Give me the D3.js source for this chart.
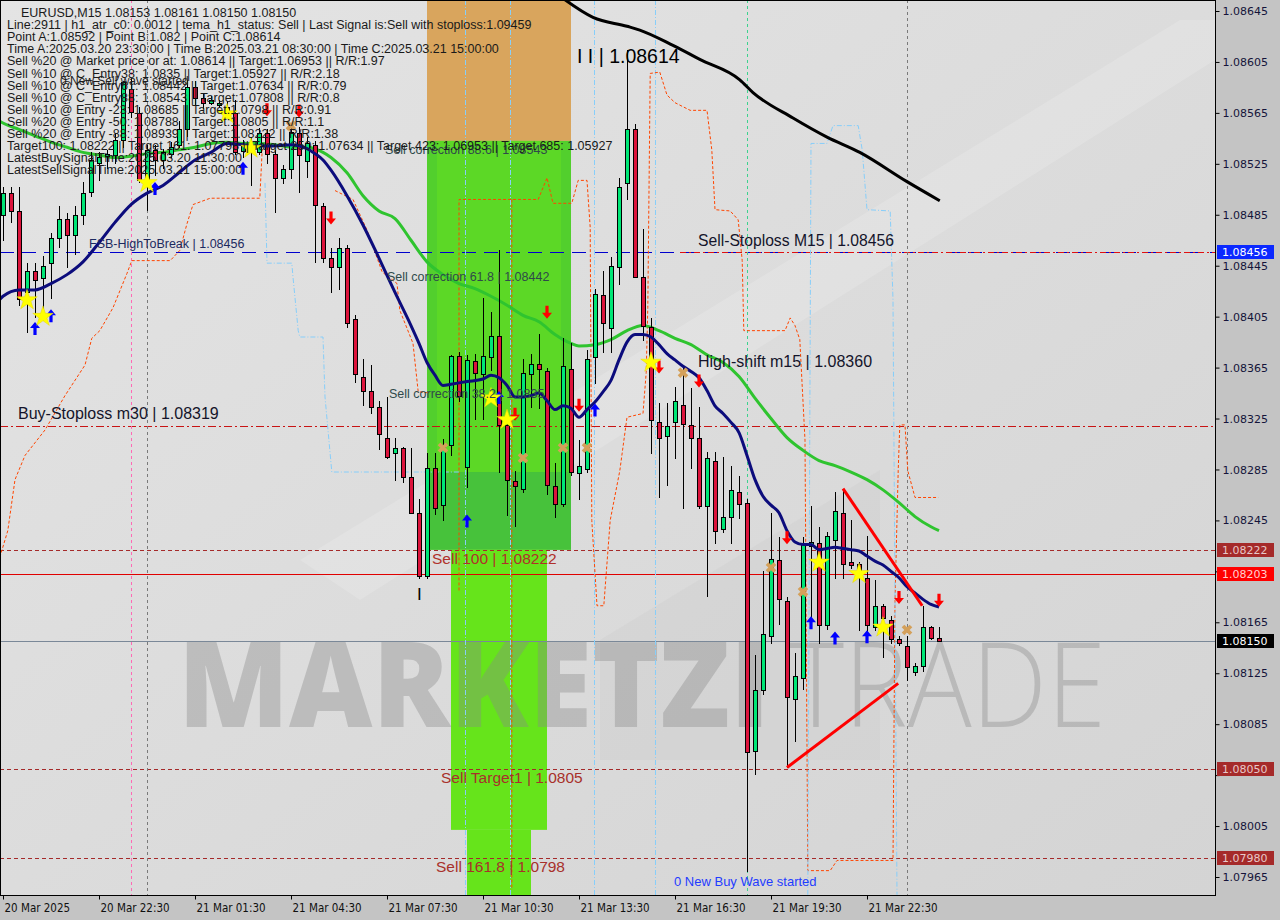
<!DOCTYPE html>
<html><head><meta charset="utf-8">
<script src="https://cdn.jsdelivr.net/npm/d3@7"></script>
<style>html,body{margin:0;padding:0;background:#c4c4c4;} svg{display:block;}</style>
</head><body><svg id="c" width="1280" height="920"></svg>
<script>
// ---------------- DATA ----------------
// EURUSD M15, bars from 20 Mar 19:30, [open, high, low, close]
const ohlc = [
[1.08485,1.08507,1.08465,1.08502],[1.08502,1.08507,1.08479,1.08488],[1.08488,1.08507,1.08414,1.08419],[1.08424,1.08447,1.08393,1.08441],
[1.08441,1.08447,1.08405,1.08434],[1.08435,1.08453,1.08402,1.08445],[1.08447,1.08471,1.08420,1.08467],[1.08467,1.08492,1.08460,1.08482],
[1.08482,1.08486,1.08444,1.08469],[1.08469,1.08492,1.08454,1.08485],[1.08485,1.08511,1.08478,1.08502],[1.08503,1.08534,1.08500,1.08528],
[1.08526,1.08534,1.08512,1.08530],[1.08531,1.08536,1.08522,1.08533],[1.08532,1.08549,1.08526,1.08544],[1.08544,1.08590,1.08538,1.08589],
[1.08584,1.08592,1.08562,1.08566],[1.08565,1.08570,1.08511,1.08512],[1.08512,1.08540,1.08489,1.08536],[1.08536,1.08540,1.08516,1.08528],
[1.08528,1.08537,1.08522,1.08534],[1.08533,1.08542,1.08530,1.08538],[1.08540,1.08559,1.08538,1.08552],[1.08552,1.08591,1.08547,1.08585],
[1.08585,1.08590,1.08571,1.08577],[1.08577,1.08581,1.08569,1.08573],[1.08573,1.08578,1.08572,1.08575],[1.08571,1.08575,1.08570,1.08573],
[1.08570,1.08574,1.08563,1.08565],[1.08565,1.08575,1.08533,1.08534],[1.08535,1.08544,1.08530,1.08539],[1.08537,1.08546,1.08508,1.08540],
[1.08534,1.08553,1.08533,1.08549],[1.08549,1.08552,1.08526,1.08533],[1.08533,1.08536,1.08487,1.08514],[1.08514,1.08524,1.08510,1.08521],
[1.08521,1.08554,1.08514,1.08550],[1.08549,1.08554,1.08503,1.08532],[1.08527,1.08546,1.08515,1.08541],[1.08540,1.08543,1.08448,1.08493],
[1.08492,1.08494,1.08448,1.08451],[1.08451,1.08459,1.08424,1.08444],[1.08444,1.08467,1.08427,1.08459],[1.08459,1.08461,1.08397,1.08400],
[1.08403,1.08406,1.08354,1.08360],[1.08358,1.08372,1.08336,1.08347],[1.08347,1.08367,1.08329,1.08334],[1.08334,1.08339,1.08301,1.08313],
[1.08310,1.08342,1.08294,1.08295],[1.08298,1.08310,1.08277,1.08302],[1.08302,1.08303,1.08275,1.08279],[1.08279,1.08302,1.08251,1.08251],
[1.08251,1.08262,1.08200,1.08201],[1.08201,1.08298,1.08200,1.08286],[1.08286,1.08298,1.08250,1.08255],[1.08257,1.08309,1.08245,1.08304],
[1.08304,1.08375,1.08296,1.08374],[1.08374,1.08377,1.08339,1.08343],[1.08287,1.08375,1.08271,1.08371],[1.08370,1.08376,1.08325,1.08361],
[1.08360,1.08420,1.08325,1.08374],[1.08373,1.08409,1.08363,1.08390],[1.08390,1.08457,1.08283,1.08320],[1.08320,1.08324,1.08249,1.08277],
[1.08276,1.08284,1.08241,1.08272],[1.08270,1.08372,1.08267,1.08361],[1.08360,1.08376,1.08334,1.08368],[1.08368,1.08391,1.08333,1.08364],
[1.08362,1.08365,1.08266,1.08273],[1.08272,1.08290,1.08248,1.08258],[1.08258,1.08388,1.08256,1.08366],[1.08364,1.08384,1.08281,1.08283],
[1.08282,1.08308,1.08262,1.08288],[1.08285,1.08379,1.08283,1.08372],[1.08373,1.08427,1.08353,1.08423],[1.08422,1.08441,1.08377,1.08400],
[1.08396,1.08452,1.08377,1.08445],[1.08444,1.08514,1.08431,1.08507],[1.08510,1.08614,1.08497,1.08552],[1.08552,1.08556,1.08436,1.08436],
[1.08436,1.08474,1.08387,1.08398],[1.08397,1.08404,1.08298,1.08324],[1.08322,1.08337,1.08263,1.08310],[1.08311,1.08337,1.08273,1.08319],
[1.08322,1.08350,1.08294,1.08339],[1.08336,1.08365,1.08255,1.08321],[1.08320,1.08349,1.08286,1.08310],[1.08310,1.08334,1.08255,1.08256],
[1.08256,1.08299,1.08186,1.08294],[1.08292,1.08299,1.08227,1.08237],[1.08238,1.08295,1.08236,1.08248],[1.08248,1.08288,1.08227,1.08269],
[1.08267,1.08280,1.08247,1.08258],[1.08259,1.08262,1.07970,1.08063],[1.08064,1.08139,1.08046,1.08112],[1.08112,1.08205,1.08109,1.08156],
[1.08154,1.08251,1.08149,1.08215],[1.08214,1.08232,1.08164,1.08183],[1.08182,1.08185,1.08051,1.08106],[1.08105,1.08141,1.08072,1.08123],
[1.08121,1.08232,1.08113,1.08227],[1.08225,1.08256,1.08167,1.08228],[1.08227,1.08240,1.08149,1.08163],[1.08163,1.08236,1.08160,1.08233],
[1.08230,1.08267,1.08200,1.08252],[1.08251,1.08269,1.08200,1.08211],[1.08212,1.08245,1.08208,1.08210],[1.08211,1.08212,1.08159,1.08206],
[1.08200,1.08233,1.08156,1.08163],[1.08161,1.08198,1.08159,1.08178],[1.08178,1.08179,1.08138,1.08168],[1.08167,1.08170,1.08149,1.08152],
[1.08152,1.08154,1.08147,1.08149],[1.08146,1.08154,1.08120,1.08130],[1.08126,1.08133,1.08124,1.08131],[1.08131,1.08178,1.08127,1.08161],
[1.08161,1.08162,1.08152,1.08153],[1.08153,1.08161,1.08150,1.08150]
];

// moving averages [bar, price]
const navyMA = [[-0.5,1.08418],[0,1.08421],[2,1.08426],[4,1.08426],[6,1.08431],[8,1.08438],[10,1.08448],[12,1.08463],[14,1.08479],[16,1.08493],[18,1.08502],[20,1.08508],[22,1.08518],[24,1.08528],[26,1.08534],[28,1.08541],[30,1.08540],[32,1.08539],[34,1.08539],[36,1.08540],[38,1.08537],[39,1.08533],[40,1.08528],[41,1.08520],[43,1.08500],[45,1.08477],[47,1.08451],[49,1.08424],[51,1.08398],[52,1.08384],[53,1.08369],[54,1.08359],[55,1.08351],[56,1.08352],[58,1.08354],[60,1.08356],[61,1.08359],[62,1.08357],[63,1.08351],[64,1.08342],[65,1.08342],[66,1.08343],[67,1.08345],[68,1.08339],[69,1.08332],[70,1.08335],[71,1.08333],[72,1.08326],[73,1.08332],[74,1.08338],[75,1.08346],[76,1.08355],[77,1.08371],[78,1.08385],[79,1.08391],[80,1.08391],[81,1.08389],[82,1.08383],[83,1.08376],[84,1.08371],[85,1.08366],[86,1.08362],[87,1.08357],[88,1.08347],[89,1.08335],[90,1.08329],[91,1.08322],[92,1.08314],[93,1.08296],[94,1.08277],[95,1.08264],[96,1.08257],[97,1.08251],[98,1.08237],[99,1.08228],[100,1.08226],[101,1.08226],[102,1.08222],[103,1.08223],[104,1.08224],[105,1.08223],[106,1.08222],[107,1.08221],[108,1.08217],[109,1.08213],[110,1.08210],[111,1.08205],[112,1.08200],[113,1.08193],[114,1.08188],[115,1.08183],[116,1.08179],[117,1.08177]];
const greenMA = [[-0.5,1.08559],[0,1.08557],[2,1.08552],[4,1.08547],[6,1.08542],[8,1.08538],[10,1.08534],[12,1.08532],[14,1.08530],[16,1.08531],[18,1.08533],[20,1.08534],[22,1.08536],[24,1.08538],[26,1.08541],[28,1.08542],[30,1.08541],[32,1.08541],[34,1.08540],[36,1.08538],[38,1.08538],[40,1.08534],[41,1.08530],[43,1.08518],[45,1.08500],[47,1.08488],[49,1.08482],[51,1.08465],[53,1.08448],[55,1.08438],[57,1.08431],[59,1.08427],[61,1.08421],[63,1.08414],[65,1.08406],[67,1.08401],[69,1.08391],[71,1.08384],[72,1.08382],[74,1.08383],[76,1.08387],[78,1.08394],[80,1.08398],[82,1.08394],[84,1.08388],[86,1.08383],[88,1.08375],[90,1.08369],[92,1.08358],[94,1.08341],[96,1.08325],[98,1.08310],[100,1.08300],[102,1.08292],[104,1.08288],[106,1.08283],[108,1.08277],[110,1.08269],[112,1.08259],[114,1.08248],[116,1.08240],[117,1.08237]];
const blackMA = [[70.2,1.08654],[73.75,1.08640],[78,1.08633],[79.6,1.08630],[83.75,1.08618],[87.1,1.08607],[92.1,1.08591],[93.75,1.08581],[98.75,1.08561],[103,1.08546],[107.1,1.08534],[113,1.08511],[117.1,1.08496]];

// band / channel lines [bar, price]
const orangeBandA = [[-0.4,1.08216],[0.6,1.08237],[1.5,1.08277],[2.75,1.08296],[5.25,1.08316],[7.75,1.08343],[10.25,1.08367],[11.1,1.08388],[12.1,1.08394],[13.75,1.08412],[15.5,1.08439],[16.1,1.08449],[20.9,1.08449],[22.1,1.08457],[23,1.08478],[23.75,1.08493],[25.9,1.08498],[32.1,1.08498],[32.4,1.08536]];
const orangeBandB = [[41.5,1.08504],[43.75,1.08497],[45.5,1.08473],[47.4,1.08440],[49.25,1.08431],[49.6,1.08410],[51.25,1.08384],[51.9,1.08346],[53.4,1.08345]];
const orangeBandC = [[57,1.08190],[57,1.08497],[63.1,1.08497],[66.9,1.08497],[68,1.08514],[68.75,1.08494],[71.1,1.08494],[71.9,1.08512],[73,1.08512],[73.4,1.08475],[73.6,1.08245],[74.25,1.08178],[75.1,1.08178],[75.9,1.08245],[77.1,1.08284],[78,1.08326],[80,1.08329],[80.4,1.08361],[80.6,1.08412],[80.9,1.08596],[82.1,1.08597],[83,1.08579],[84,1.08573],[85.9,1.08567],[88,1.08567],[88.6,1.08536],[89,1.08489],[90.9,1.08488],[91.9,1.08481],[92.4,1.08449],[92.6,1.08394],[97.75,1.08394],[98.4,1.08404],[99,1.08398],[99.6,1.08387],[100.25,1.08308],[100.6,1.07970],[103.4,1.07970],[104.25,1.07978],[111.25,1.07978],[111.5,1.08182],[111.9,1.08284],[112.1,1.08320],[112.75,1.08320],[113.1,1.08284],[114,1.08263],[116.9,1.08263]];
const orangeBandD = [[63.6,1.08497],[63.6,1.07955]];
const blueBandA = [[32.75,1.08510],[33,1.08447],[36.1,1.08447],[36.25,1.08436],[36.9,1.08394],[37.1,1.08389],[40,1.08389],[40.25,1.08342],[41.1,1.08283],[57.1,1.08283]];
const blueBandB = [[100.6,1.07951],[101,1.08541],[103,1.08541],[103.75,1.08555],[106.9,1.08555],[107.4,1.08536],[108,1.08489],[110.9,1.08488],[111.25,1.08418],[111.75,1.07951]];
const blueVerticals = [57.75, 63.4, 73.9, 81.5];
const pinkVertical = 16, grayVerticals = [18, 113], tealVertical = 93;

// zones
const zoneBars = [53, 71];
const zoneLevels = [1.08700, 1.08543, 1.08283, 1.08222];
const lowerZoneBars = [56, 68], lowerZoneLevels = [1.08222, 1.08002];
const tailZoneBars = [58, 66], tailZoneLevels = [1.08002, 1.07940];

// triangle
const triUpper = [[105,1.08270],[114.9,1.08178]];
const triLower = [[98,1.08051],[111.9,1.08117]];

// levels
const fsbLevel = 1.08456, buyStopLevel = 1.08319, sell100Level = 1.08222, redLevel = 1.08203, bidLevel = 1.08150, target1Level = 1.08050, sell1618Level = 1.07980;

// signals [bar, price]
const sellArrows = [[33,1.08567],[37,1.08566],[41,1.08482],[68,1.08408],[64,1.08328],[72,1.08335],[82,1.08365],[87,1.08354],[98,1.08231],[112,1.08184],[117,1.08182]];
const buyArrows = [[4,1.08396],[6,1.08406],[19,1.08506],[30,1.08522],[58,1.08245],[62,1.08342],[74,1.08332],[101,1.08165],[104,1.08153],[108,1.08154]];
const stars = [[3,1.08418],[5,1.08405],[18,1.08510],[28,1.08564],[31,1.08537],[61,1.08341],[63,1.08324],[81,1.08369],[102,1.08212],[107,1.08203],[110,1.08161]];
const crosses = [[55,1.08302],[65,1.08294],[70,1.08302],[73,1.08302],[85,1.08361],[96,1.08208],[100,1.08189],[113,1.08159],[36,1.08555]];

// axes
const priceTicks = [1.08645,1.08605,1.08565,1.08525,1.08485,1.08445,1.08405,1.08365,1.08325,1.08285,1.08245,1.08205,1.08165,1.08125,1.08085,1.08045,1.08005,1.07965];
const hiddenTicks = [1.08205, 1.08045];
const timeTicks = [0,12,24,36,48,60,72,84,96,108];
const timeLabels = ["20 Mar 2025","20 Mar 22:30","21 Mar 01:30","21 Mar 04:30","21 Mar 07:30","21 Mar 10:30","21 Mar 13:30","21 Mar 16:30","21 Mar 19:30","21 Mar 22:30"];
const axisMarkers = [1.08456, 1.08222, 1.08203, 1.08150, 1.08050, 1.07980];

const infoLines = [
"Line:2911 | h1_atr_c0: 0.0012 | tema_h1_status: Sell | Last Signal is:Sell with stoploss:1.09459",
"Point A:1.08592 | Point B:1.082 | Point C:1.08614",
"Time A:2025.03.20 23:30:00 | Time B:2025.03.21 08:30:00 | Time C:2025.03.21 15:00:00",
"Sell %20 @ Market price or at: 1.08614 || Target:1.06953 || R/R:1.97",
"Sell %10 @ C_Entry38: 1.0835 || Target:1.05927 || R/R:2.18",
"Sell %10 @ C_Entry61: 1.08442 || Target:1.07634 || R/R:0.79",
"Sell %10 @ C_Entry88: 1.08543 || Target:1.07808 || R/R:0.8",
"Sell %10 @ Entry -23: 1.08685 || Target:1.0798 || R/R:0.91",
"Sell %20 @ Entry -50: 1.08788 || Target:1.0805 || R/R:1.1",
"Sell %20 @ Entry -88: 1.08939 || Target:1.08222 || R/R:1.38",
"Target100: 1.08222 || Target 161: 1.07798 || Target 250: 1.07634 || Target 423: 1.06953 || Target 685: 1.05927",
"LatestBuySignalTime:2025.03.20 11:30:00",
"LatestSellSignalTime:2025.03.21 15:00:00"
];
const titleLine = "EURUSD,M15  1.08153 1.08161 1.08150 1.08150";

// ---------------- DRAW ----------------
const PW = 1215, PH = 895;
const svg = d3.select('#c');
const x = d3.scaleLinear().domain([0, 117]).range([3, 939]);
const y = d3.scaleLinear().domain([1.07965, 1.08645]).range([877, 11]);
const F = 'Liberation Sans, Arial, sans-serif';

const defs = svg.append('defs');
const grad = defs.append('linearGradient').attr('id','bg').attr('x1',0).attr('y1',0).attr('x2',1).attr('y2',1);
grad.append('stop').attr('offset','0%').attr('stop-color','#e4e4e4');
grad.append('stop').attr('offset','100%').attr('stop-color','#d4d4d4');
defs.append('clipPath').attr('id','clip').append('rect').attr('x',0).attr('y',0).attr('width',PW).attr('height',PH);

svg.append('rect').attr('width',1280).attr('height',920).attr('fill','#c4c4c4');
svg.append('rect').attr('width',PW).attr('height',PH).attr('fill','url(#bg)');
const g = svg.append('g').attr('clip-path','url(#clip)');

// faint logo shapes
g.append('path').attr('d','M300,560 L1180,20 L1215,20 L1215,60 L360,600 Z').attr('fill','#ffffff').attr('opacity',0.15);
g.append('path').attr('d','M600,640 L880,470 L880,760 L600,760 Z').attr('fill','#c8c8c8').attr('opacity',0.25);

// zones
const zx0 = x(zoneBars[0]), zx1 = x(zoneBars[1]);
g.append('rect').attr('x',zx0).attr('width',zx1-zx0).attr('y',y(zoneLevels[0])).attr('height',y(zoneLevels[1])-y(zoneLevels[0])).attr('fill','#d9a55d');
g.append('rect').attr('x',zx0).attr('width',zx1-zx0).attr('y',y(zoneLevels[1])).attr('height',y(zoneLevels[3])-y(zoneLevels[1])).attr('fill','#52cf2d');
g.append('rect').attr('x',zx0+10).attr('width',zx1-zx0-20).attr('y',y(zoneLevels[1])).attr('height',y(zoneLevels[2])-y(zoneLevels[1])).attr('fill','#5cd826');
g.append('rect').attr('x',zx0).attr('width',zx1-zx0).attr('y',y(zoneLevels[2])).attr('height',y(zoneLevels[3])-y(zoneLevels[2])).attr('fill','#47c23b');
g.append('rect').attr('x',x(lowerZoneBars[0])).attr('width',x(lowerZoneBars[1])-x(lowerZoneBars[0])).attr('y',y(lowerZoneLevels[0])).attr('height',y(lowerZoneLevels[1])-y(lowerZoneLevels[0])).attr('fill','#66e41b');
g.append('rect').attr('x',x(tailZoneBars[0])).attr('width',x(tailZoneBars[1])-x(tailZoneBars[0])).attr('y',y(tailZoneLevels[0])).attr('height',y(tailZoneLevels[1])-y(tailZoneLevels[0])).attr('fill','#66e41b');

// watermark (over zones)
g.append('text').attr('x',178).attr('y',727).attr('font-family','Open Sans, sans-serif').attr('font-weight',800)
  .attr('font-size',118).attr('fill','#8a8a8a').attr('fill-opacity',0.38)
  .attr('textLength',592).attr('lengthAdjust','spacingAndGlyphs').text('MARKETZI');
g.append('text').attr('x',788).attr('y',727).attr('font-family','Open Sans, sans-serif').attr('font-weight',300)
  .attr('font-size',118).attr('fill','#8a8a8a').attr('fill-opacity',0.38)
  .attr('textLength',318).attr('lengthAdjust','spacingAndGlyphs').text('TRADE');

// horizontal levels
function hline(p, stroke, dash, x0 = 0, x1 = PW, w = 1) {
  const yy = Math.round(y(p)) + 0.5;
  g.append('line').attr('x1',x0).attr('x2',x1).attr('y1',yy).attr('y2',yy)
    .attr('stroke',stroke).attr('stroke-width',w).attr('stroke-dasharray',dash);
}
hline(fsbLevel, '#0000cd', '14,8');
hline(fsbLevel, '#e01010', '6,3,2,3', 680, PW);
hline(buyStopLevel, '#c81414', '8,3,2,3');
hline(sell100Level, '#a52a2a', '4,3');
hline(redLevel, '#e00000', null);
hline(bidLevel, '#7a8898', null);
hline(target1Level, '#a52a2a', '4,3');
hline(sell1618Level, '#a52a2a', '4,3');

// verticals
function vline(i, stroke, dash) {
  const xx = Math.round(x(i)) + 0.5;
  g.append('line').attr('x1',xx).attr('x2',xx).attr('y1',0).attr('y2',PH)
    .attr('stroke',stroke).attr('stroke-width',1).attr('stroke-dasharray',dash);
}
blueVerticals.forEach(i => vline(i, '#87cefa', '5,2,1,2'));
vline(pinkVertical, '#ff69b4', '3,3');
grayVerticals.forEach(i => vline(i, '#7a7a7a', '3,3'));
vline(tealVertical, '#3cd28e', '3,3');

const line = d3.line().x(d => x(d[0])).y(d => y(d[1]));
function poly(data, stroke, w, dash, curve) {
  g.append('path').attr('d', (curve ? line.curve(curve) : line.curve(d3.curveLinear))(data))
    .attr('fill','none').attr('stroke',stroke).attr('stroke-width',w).attr('stroke-dasharray',dash || null)
    .attr('stroke-linejoin','round');
}
[orangeBandA, orangeBandB, orangeBandC, orangeBandD].forEach(d => poly(d, '#ff4500', 1, '3,2'));
[blueBandA, blueBandB].forEach(d => poly(d, '#87cefa', 1, '5,2,1,2'));

// MAs
poly(blackMA, '#000000', 3, null, d3.curveMonotoneX);
poly(greenMA, '#2fc42f', 3, null, d3.curveMonotoneX);

// candles
const cg = g.append('g');
cg.selectAll('line.w').data(ohlc).join('line').attr('class','w')
  .attr('x1',(d,i)=>Math.round(x(i))+0.5).attr('x2',(d,i)=>Math.round(x(i))+0.5)
  .attr('y1',d=>Math.round(y(d[1]))).attr('y2',d=>Math.round(y(d[2]))+1)
  .attr('stroke','#000').attr('stroke-width',1);
cg.selectAll('rect.b').data(ohlc).join('rect').attr('class','b')
  .attr('x',(d,i)=>Math.round(x(i))-1.5).attr('width',4)
  .attr('y',d=>Math.round(y(Math.max(d[0],d[3])))+0.5)
  .attr('height',d=>Math.max(1, Math.round(y(Math.min(d[0],d[3]))) - Math.round(y(Math.max(d[0],d[3])))))
  .attr('fill',d=>d[3]>=d[0] ? '#00e676' : '#dc143c').attr('stroke','#000').attr('stroke-width',1);

poly(navyMA, '#0c0c7c', 3, null, d3.curveMonotoneX);

// triangle
poly(triUpper, '#ff0000', 3);
poly(triLower, '#ff0000', 3);

// signals
const downArrow = 'M-1.6,-7 L1.6,-7 L1.6,0 L5,0 L0,6 L-5,0 L-1.6,0 Z';
const upArrow = 'M-1.6,7 L1.6,7 L1.6,0 L5,0 L0,-6 L-5,0 L-1.6,0 Z';
g.selectAll('path.sa').data(sellArrows).join('path').attr('class','sa').attr('d',downArrow)
  .attr('transform',d=>`translate(${x(d[0])},${y(d[1])})`).attr('fill','#ff0000');
g.selectAll('path.ba').data(buyArrows).join('path').attr('class','ba').attr('d',upArrow)
  .attr('transform',d=>`translate(${x(d[0])},${y(d[1])})`).attr('fill','#0000ff');
g.selectAll('path.st').data(stars).join('path').attr('class','st').attr('d',d3.symbol(d3.symbolStar).size(130)())
  .attr('transform',d=>`translate(${x(d[0])},${y(d[1])})`).attr('fill','#ffff00').attr('stroke','#e6d800').attr('stroke-width',0.5);
g.selectAll('path.cr').data(crosses).join('path').attr('class','cr').attr('d',d3.symbol(d3.symbolCross).size(70)())
  .attr('transform',d=>`translate(${x(d[0])},${y(d[1])}) rotate(45)`).attr('fill','#d4a05a');

// annotations
function label(t, xx, yy, size, fill) {
  return g.append('text').attr('x',xx).attr('y',yy).attr('font-family',F).attr('font-size',size).attr('fill',fill).text(t);
}
label('FSB-HighToBreak | 1.08456', 89, y(fsbLevel)-4, 12.5, '#1c2a60');
label('Sell-Stoploss M15 | 1.08456', 698, y(fsbLevel)-6, 15.7, '#14142a');
label('Sell correction 88.6 | 1.08543', 385, 154, 12.5, '#2f4a4a');
label('Sell correction 61.8 | 1.08442', 387, 281, 12.5, '#2f4a4a');
label('Sell correction 38.2 | 1.0835', 389, 398, 12.5, '#2f4a4a');
label('High-shift m15 | 1.08360', 698, 367, 16, '#14142a');
label('Buy-Stoploss m30 | 1.08319', 18, 419, 16, '#14142a');
label('Sell 100 | 1.08222', 432, 564, 15.5, '#b0302a');
label('Sell Target1 | 1.0805', 441, 783, 15.5, '#a8302a');
label('Sell 161.8 | 1.0798', 436, 872, 15.5, '#a8302a');
label('I I | 1.08614', 577, 63, 19.5, '#000000');
label('I', 417, 600, 17, '#000000');
label('0 New Buy Wave started', 674, 886, 13, '#1f3cff');
label('0 New Sell wave started', 60, 85, 12, '#222222');

// info text
label(titleLine, 21, 17, 12.5, '#1a1a1a');
infoLines.forEach((t, k) => label(t, 7, 29.1 + 12.1*k, 12.5, '#1a1a1a'));

// frame
svg.append('rect').attr('x',0.5).attr('y',0.5).attr('width',PW).attr('height',PH).attr('fill','none').attr('stroke','#000').attr('stroke-width',1);

// axes
const ay = svg.append('g').attr('transform',`translate(${PW+0.5},0)`)
  .call(d3.axisRight(y).tickValues(priceTicks).tickFormat(d => hiddenTicks.includes(d) ? '' : d3.format('.5f')(d)).tickSize(4).tickPadding(3));
ay.select('.domain').remove();
ay.selectAll('text').attr('font-family','DejaVu Sans, sans-serif').attr('font-size',11).attr('fill','#14143a');
ay.selectAll('line').attr('stroke','#000');

const ax = svg.append('g').attr('transform',`translate(0,${PH+0.5})`)
  .call(d3.axisBottom(x).tickValues(timeTicks).tickFormat((d,i)=>timeLabels[i]).tickSize(4).tickPadding(4));
ax.select('.domain').remove();
ax.selectAll('text').attr('text-anchor','start').attr('x',1).attr('font-family','DejaVu Sans Condensed, DejaVu Sans, sans-serif').attr('font-size',11.5).attr('fill','#101010');
ax.selectAll('line').attr('stroke','#000');

// axis markers
const markerFill = ['#0a28ff','#a52a2a','#ff0000','#000000','#a52a2a','#a52a2a'];
const markerText = ['#ffffff','#e8c8c8','#ffd0d0','#ffffff','#e8c8c8','#e8c8c8'];
const mg = svg.append('g');
mg.selectAll('rect').data(axisMarkers).join('rect')
  .attr('x',PW+2).attr('width',57).attr('y',d=>Math.round(y(d))-7).attr('height',14)
  .attr('fill',(d,i)=>markerFill[i]);
mg.selectAll('text').data(axisMarkers).join('text')
  .attr('x',PW+7).attr('y',d=>Math.round(y(d))+4).attr('font-family','DejaVu Sans, sans-serif').attr('font-size',11)
  .attr('fill',(d,i)=>markerText[i]).text(d=>d3.format('.5f')(d));
</script></body></html>
